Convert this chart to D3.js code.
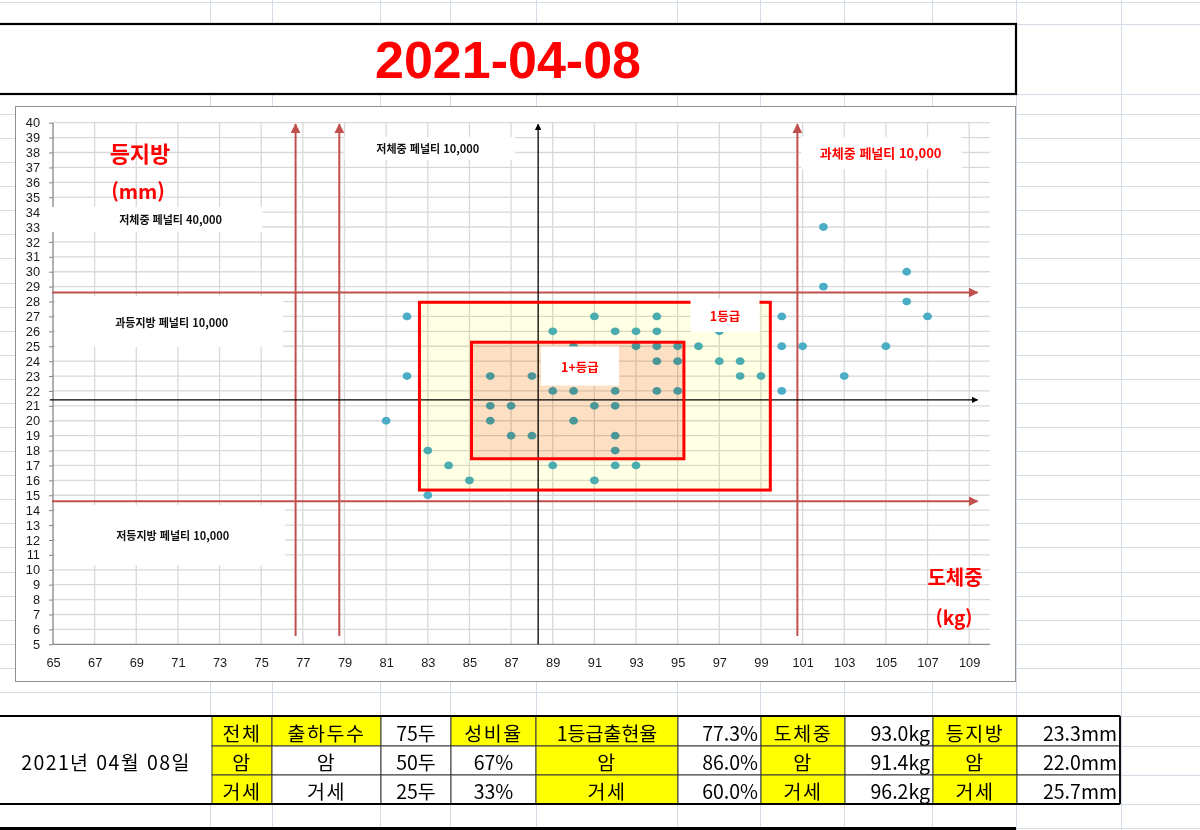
<!DOCTYPE html>
<html lang="ko">
<head>
<meta charset="utf-8">
<title>2021-04-08 도체중 · 등지방 분포</title>
<script src="https://cdn.jsdelivr.net/npm/d3@7"></script>
<style>
  html, body { margin: 0; padding: 0; background: #fff; }
  svg { display: block; }
  text { font-family: "Noto Sans CJK KR", "Noto Sans", sans-serif; }
</style>
</head>
<body>
<svg id="sheet" width="1200" height="830"></svg>
<script>
// ---- data -------------------------------------------------------------
const titleText = "2021-04-08";

// carcass weight (kg) and back-fat thickness (mm) of each shipped animal
const carcassWeight = [
  81, 82, 82, 83, 83, 84, 85, 86, 86, 86, 87, 87, 88, 88,
  89, 89, 89, 90, 90, 90, 91, 91, 91,
  92, 92, 92, 92, 92, 92, 93, 93, 93,
  94, 94, 94, 94, 94, 95, 95, 95, 96, 97, 97, 98, 98, 99,
  100, 100, 100, 101, 102, 102, 103, 105, 106, 106, 107
];
const backFat = [
  20, 27, 23, 18, 15, 17, 16, 23, 21, 20, 21, 19, 23, 19,
  26, 22, 17, 25, 22, 20, 27, 21, 16,
  26, 22, 21, 19, 18, 17, 26, 25, 17,
  27, 26, 25, 24, 22, 25, 24, 22, 25, 26, 24, 24, 23, 23,
  27, 25, 22, 25, 33, 29, 23, 25, 30, 28, 27
];

// axis ticks
const weightTicks = [65, 67, 69, 71, 73, 75, 77, 79, 81, 83, 85, 87, 89, 91, 93, 95, 97, 99, 101, 103, 105, 107, 109];
const fatTicks = [5, 6, 7, 8, 9, 10, 11, 12, 13, 14, 15, 16, 17, 18, 19, 20, 21, 22, 23, 24, 25, 26, 27, 28, 29, 30, 31, 32, 33, 34, 35, 36, 37, 38, 39, 40];

// penalty limit lines
const weightLimits = [76.65, 78.75, 100.75];   // vertical (kg)
const fatLimits = [28.6, 14.6];                // horizontal (mm)
const centreWeight = 88.3;                     // black cross lines
const centreFat = 21.4;

// grade zones: [x0, x1, y0, y1]
const grade1Zone = [82.6, 99.45, 15.35, 27.95];
const grade1PlusZone = [85.1, 95.3, 17.45, 25.27];

// penalty notes: text, box [x0, x1, y0, y1] and text centre tx, in axis units
const penaltyNotes = [
  { text: "저체중 페널티 40,000", box: [64.6, 75.05, 32.67, 34.35], tx: 70.65, size: 11, red: false },
  { text: "과등지방 페널티 10,000", box: [65.1, 76.05, 24.95, 28.35], tx: 70.7, size: 11, red: false },
  { text: "저등지방 페널티 10,000", box: [65.1, 76.15, 10.3, 14.35], tx: 70.75, size: 11, red: false },
  { text: "저체중 페널티 10,000", box: [79.0, 87.2, 37.5, 39.05], tx: 83.0, size: 11, red: false },
  { text: "과체중 페널티 10,000", box: [100.93, 108.65, 36.9, 39.05], tx: 104.75, size: 13, red: true }
];

// summary table
const summaryDate = "2021년 04월 08일";
const tableRows = [
  ["전체", "출하두수", "75두", "성비율", "1등급출현율", "77.3%", "도체중", "93.0kg", "등지방", "23.3mm"],
  ["암", "암", "50두", "67%", "암", "86.0%", "암", "91.4kg", "암", "22.0mm"],
  ["거세", "거세", "25두", "33%", "거세", "60.0%", "거세", "96.2kg", "거세", "25.7mm"]
];
// which cells are header (yellow) cells, per row
const tableHeaderMask = [
  [1, 1, 0, 1, 1, 0, 1, 0, 1, 0],
  [1, 0, 0, 0, 1, 0, 1, 0, 1, 0],
  [1, 0, 0, 0, 1, 0, 1, 0, 1, 0]
];
const tableAlign = ["middle", "middle", "middle", "middle", "middle", "end", "middle", "end", "middle", "end"];

// ---- layout -----------------------------------------------------------
const svg = d3.select("#sheet");
const W = 1200, H = 830;
const RED = "#ff0000", LIMIT = "#c0504d", DOT = "#4bacc6";

const plot = { left: 53, right: 990, top: 122.7, bottom: 644.3 };
const x = d3.scaleLinear().domain([65, 110]).range([plot.left, plot.right]);
const y = d3.scaleLinear().domain([5, 40]).range([plot.bottom, plot.top]);

// spreadsheet cell grid in the background
const sheetCols = [210, 272, 380, 450, 536, 677, 760, 844, 932, 1016, 1121];
const sheetRows = [2, 24, 94].concat(d3.range(0, 25).map(i => 114 + i * 24.08)).concat([716, 746, 775, 804, 828]);
const bg = svg.append("g").attr("stroke", "#d5dce8").attr("stroke-width", 1);
bg.selectAll("line.c").data(sheetCols).join("line")
  .attr("x1", d => d + 0.5).attr("x2", d => d + 0.5).attr("y1", 0).attr("y2", H);
bg.selectAll("line.r").data(sheetRows).join("line")
  .attr("x1", 0).attr("x2", W).attr("y1", d => Math.round(d) + 0.5).attr("y2", d => Math.round(d) + 0.5);

// title cell
svg.append("rect").attr("x", -2).attr("y", 24).attr("width", 1018).attr("height", 70)
  .attr("fill", "#fff").attr("stroke", "#000").attr("stroke-width", 2.2);
svg.append("text").attr("x", 508).attr("y", 78).attr("text-anchor", "middle")
  .style("font-family", "'Liberation Sans', Arial, sans-serif")
  .attr("font-size", 52).attr("font-weight", "bold").attr("fill", RED)
  .text(titleText);

// chart frame
svg.append("rect").attr("x", 15.5).attr("y", 106.5).attr("width", 1000).attr("height", 575)
  .attr("fill", "#fff").attr("stroke", "#8f8f8f").attr("stroke-width", 1);

// gridlines
const grid = svg.append("g").attr("stroke", "#d9d9d9").attr("stroke-width", 1.3);
grid.selectAll("line.v").data(weightTicks.slice(1)).join("line")
  .attr("x1", d => x(d)).attr("x2", d => x(d)).attr("y1", plot.top).attr("y2", plot.bottom);
grid.selectAll("line.h").data(fatTicks.slice(1)).join("line")
  .attr("x1", plot.left).attr("x2", plot.right).attr("y1", d => y(d)).attr("y2", d => y(d));

// axes
const yAxis = d3.axisLeft(y).tickValues(fatTicks).tickSize(4).tickPadding(9).tickFormat(d3.format("d"));
const xAxis = d3.axisBottom(x).tickValues(weightTicks).tickSize(0).tickPadding(14).tickFormat(d3.format("d"));
const gy = svg.append("g").attr("transform", `translate(${plot.left},0)`).call(yAxis);
const gx = svg.append("g").attr("transform", `translate(0,${plot.bottom})`).call(xAxis);
[gx, gy].forEach(g => {
  g.select(".domain").attr("stroke", "#868686").attr("stroke-width", 1.3);
  g.selectAll(".tick line").attr("stroke", "#868686");
  g.selectAll("text").attr("font-size", 12.8).attr("fill", "#1a1a1a")
    .style("font-family", "'Liberation Sans', Arial, sans-serif");
});
gx.select(".domain").attr("d", `M${plot.left},0H${plot.right}`);
gy.select(".domain").attr("d", `M0,${plot.bottom}V${plot.top}`);

// penalty note boxes (white panels over the grid)
const notes = svg.append("g");
notes.selectAll("rect").data(penaltyNotes).join("rect")
  .attr("x", d => x(d.box[0])).attr("y", d => y(d.box[3]))
  .attr("width", d => x(d.box[1]) - x(d.box[0])).attr("height", d => y(d.box[2]) - y(d.box[3]))
  .attr("fill", "#fff");
notes.selectAll("text").data(penaltyNotes).join("text")
  .attr("x", d => x(d.tx))
  .attr("y", d => (y(d.box[2]) + y(d.box[3])) / 2)
  .attr("text-anchor", "middle").attr("dominant-baseline", "central")
  .attr("font-size", d => d.size).attr("font-weight", "bold")
  .attr("fill", d => d.red ? RED : "#111")
  .text(d => d.text);

// data points
const pts = carcassWeight.map((w, i) => ({ w, f: backFat[i] }));
svg.append("g").selectAll("ellipse").data(pts).join("ellipse")
  .attr("cx", d => x(d.w)).attr("cy", d => y(d.f))
  .attr("rx", 4.4).attr("ry", 3.9).attr("fill", DOT);

// arrow markers
const defs = svg.append("defs");
[["arrRed", LIMIT], ["arrBlack", "#000"]].forEach(([id, c]) => {
  defs.append("marker").attr("id", id).attr("viewBox", "0 0 10 10")
    .attr("refX", 9).attr("refY", 5).attr("markerWidth", 5).attr("markerHeight", 5)
    .attr("markerUnits", "strokeWidth").attr("orient", "auto")
    .append("path").attr("d", "M0,0L10,5L0,10Z").attr("fill", c);
});

// limit arrows
const lim = svg.append("g");
lim.selectAll("line.wl").data(weightLimits).join("line")
  .attr("x1", d => x(d)).attr("x2", d => x(d)).attr("y1", y(5.55)).attr("y2", y(39.9))
  .attr("stroke", LIMIT).attr("stroke-width", 2).attr("marker-end", "url(#arrRed)");
lim.selectAll("line.fl").data(fatLimits).join("line")
  .attr("x1", x(64.95)).attr("x2", x(109.4)).attr("y1", d => y(d)).attr("y2", d => y(d))
  .attr("stroke", LIMIT).attr("stroke-width", 2).attr("marker-end", "url(#arrRed)");
lim.append("line")
  .attr("x1", x(centreWeight)).attr("x2", x(centreWeight)).attr("y1", y(5)).attr("y2", y(39.9))
  .attr("stroke", "#000").attr("stroke-width", 1.3).attr("marker-end", "url(#arrBlack)");
lim.append("line")
  .attr("x1", x(64.85)).attr("x2", x(109.4)).attr("y1", y(centreFat)).attr("y2", y(centreFat))
  .attr("stroke", "#000").attr("stroke-width", 1.3).attr("marker-end", "url(#arrBlack)");

// grade zones (tinted panels with red frames)
function zone(z, fill) {
  const r = { x: x(z[0]), y: y(z[3]), w: x(z[1]) - x(z[0]), h: y(z[2]) - y(z[3]) };
  svg.append("rect").attr("x", r.x).attr("y", r.y).attr("width", r.w).attr("height", r.h)
    .attr("fill", fill).style("mix-blend-mode", "multiply");
  return r;
}
const z1 = zone(grade1Zone, "#ffffe3");
const z2 = zone(grade1PlusZone, "#fde0dc");
[z1, z2].forEach(r => {
  svg.append("rect").attr("x", r.x).attr("y", r.y).attr("width", r.w).attr("height", r.h)
    .attr("fill", "none").attr("stroke", RED).attr("stroke-width", 3);
});

// grade tags
const tags = [
  { text: "1등급", cx: 725, cy: 315.5, w: 69, h: 33 },
  { text: "1+등급", cx: 580, cy: 366, w: 78, h: 39 }
];
const tg = svg.append("g");
tg.selectAll("rect").data(tags).join("rect")
  .attr("x", d => d.cx - d.w / 2).attr("y", d => d.cy - d.h / 2)
  .attr("width", d => d.w).attr("height", d => d.h).attr("fill", "#fff");
tg.selectAll("text").data(tags).join("text")
  .attr("x", d => d.cx).attr("y", d => d.cy)
  .attr("text-anchor", "middle").attr("dominant-baseline", "central")
  .attr("font-size", 12.5).attr("font-weight", "bold").attr("fill", RED)
  .text(d => d.text);

// axis captions
const caps = [
  { t: "등지방", x: 140, y: 152, s: 22 },
  { t: "(mm)", x: 138, y: 190, s: 20 },
  { t: "도체중", x: 955, y: 576, s: 20 },
  { t: "(kg)", x: 954, y: 616, s: 19 }
];
svg.append("g").selectAll("text").data(caps).join("text")
  .attr("x", d => d.x).attr("y", d => d.y)
  .attr("text-anchor", "middle").attr("dominant-baseline", "central")
  .attr("font-size", d => d.s).attr("font-weight", "bold").attr("fill", RED)
  .text(d => d.t);

// ---- summary table ----------------------------------------------------
const colEdges = [212, 272, 381, 451, 536, 678, 761, 845, 933, 1017, 1120];
const rowEdges = [716, 746, 775, 804];
const tbl = svg.append("g");
tbl.append("rect").attr("x", -2).attr("y", rowEdges[0]).attr("width", colEdges[0] + 2)
  .attr("height", rowEdges[3] - rowEdges[0]).attr("fill", "#fff");
tableRows.forEach((row, ri) => {
  row.forEach((val, ci) => {
    const x0 = colEdges[ci], x1 = colEdges[ci + 1];
    const y0 = rowEdges[ri], y1 = rowEdges[ri + 1];
    tbl.append("rect").attr("x", x0).attr("y", y0).attr("width", x1 - x0).attr("height", y1 - y0)
      .attr("fill", tableHeaderMask[ri][ci] ? "#ffff00" : "#fff")
      .attr("stroke", "#3a3a3a").attr("stroke-width", 1);
    const anchor = tableAlign[ci];
    tbl.append("text")
      .attr("x", anchor === "end" ? x1 - 3 : (x0 + x1) / 2)
      .attr("y", (y0 + y1) / 2 + 1)
      .attr("text-anchor", anchor).attr("dominant-baseline", "central")
      .attr("font-size", 19.5).attr("fill", "#000")
      .attr("letter-spacing", /[가-힣]/.test(val) && !/\d/.test(val) ? 1.5 : 0)
      .text(val);
  });
});
tbl.append("text").attr("x", 106).attr("y", 761).attr("text-anchor", "middle")
  .attr("dominant-baseline", "central").attr("font-size", 19.5).attr("letter-spacing", 1.4)
  .text(summaryDate);
// outer frame of the table
tbl.append("line").attr("x1", 0).attr("x2", colEdges[10]).attr("y1", rowEdges[0]).attr("y2", rowEdges[0])
  .attr("stroke", "#000").attr("stroke-width", 1.8);
tbl.append("line").attr("x1", 0).attr("x2", colEdges[10]).attr("y1", rowEdges[3]).attr("y2", rowEdges[3])
  .attr("stroke", "#000").attr("stroke-width", 1.8);
tbl.append("line").attr("x1", colEdges[10]).attr("x2", colEdges[10]).attr("y1", rowEdges[0]).attr("y2", rowEdges[3])
  .attr("stroke", "#000").attr("stroke-width", 1.8);

// bottom rule
svg.append("line").attr("x1", 0).attr("x2", 1016).attr("y1", 828.5).attr("y2", 828.5)
  .attr("stroke", "#000").attr("stroke-width", 3);
</script>
</body>
</html>
